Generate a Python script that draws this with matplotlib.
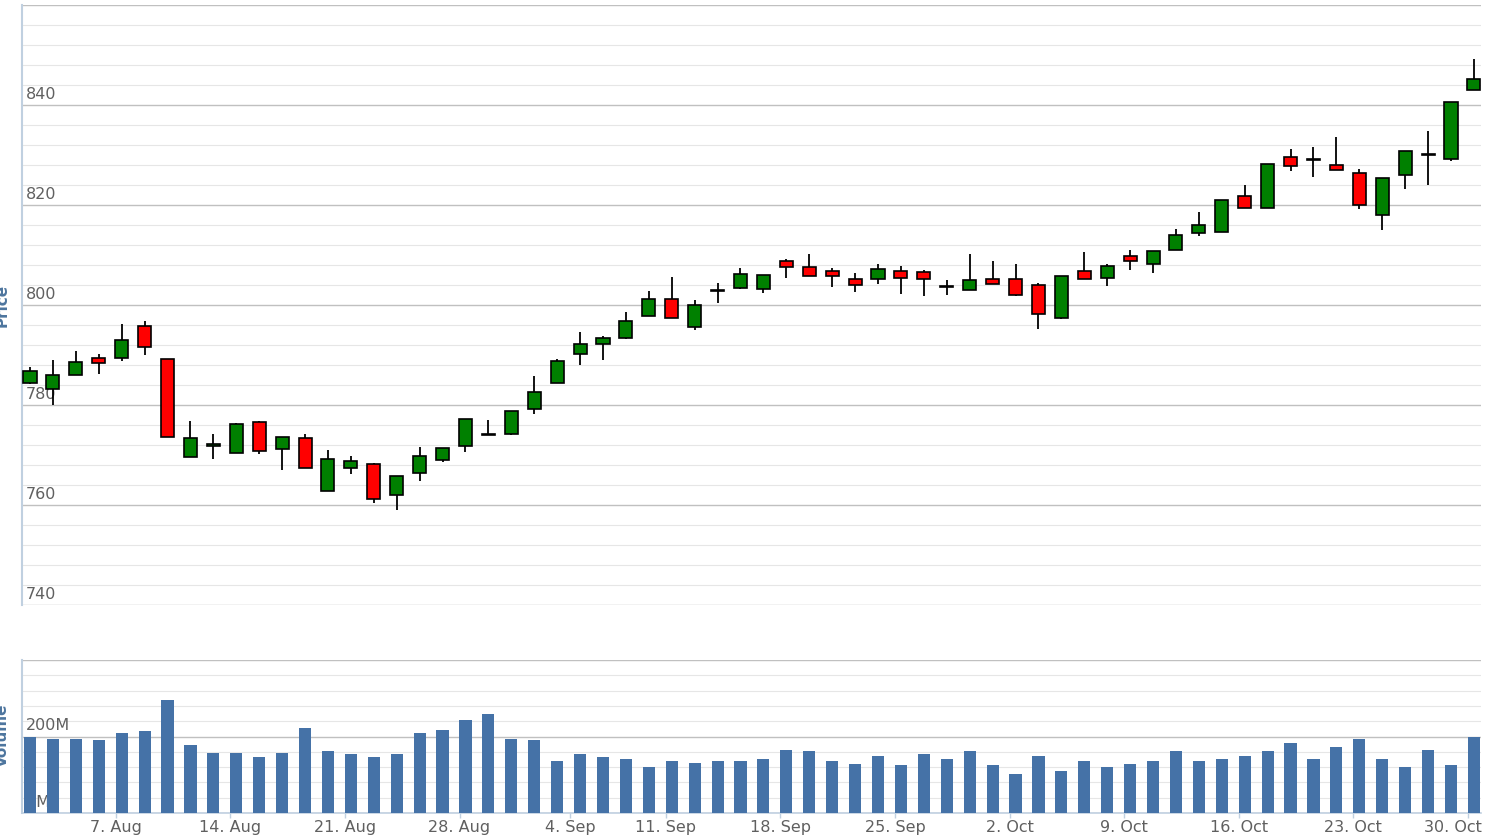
import matplotlib.pyplot as plt
import numpy as np
import pandas as pd
from matplotlib.transforms import ScaledTranslation

# trading days, Labor Day closed
dates = pd.bdate_range('2017-08-01', '2017-10-30')
dates = dates[dates != pd.Timestamp('2017-09-04')]

opens = [784.5, 783.2, 786.0, 789.5,
         789.5, 795.8, 789.2, 769.6, 771.9,
         770.5, 776.5, 771.2, 773.4, 762.8,
         767.5, 768.1, 762.1, 766.5, 769.0,
         771.8, 774.0, 774.3, 779.2, 784.5,
         790.3, 792.2, 793.4, 797.8,
         801.3, 795.7, 802.8, 803.4, 803.3,
         808.8, 807.5, 806.9, 805.3, 805.2,
         806.9, 806.6, 803.6, 803.1, 805.1,
         805.3, 804.1, 797.5, 806.7, 805.5,
         809.7, 808.3, 811.1, 814.5, 814.6,
         821.8, 819.5, 829.5, 829.0, 828.0,
         826.4, 818.0, 826.0, 830.0, 829.2,
         843.1]
highs = [787.7, 789.0, 790.8, 790.2,
         796.2, 796.8, 789.2, 776.9, 774.3,
         776.5, 776.9, 773.7, 774.3, 771.0,
         769.8, 768.5, 765.9, 771.7, 771.5,
         777.1, 777.1, 778.7, 785.8, 789.3,
         794.6, 793.9, 798.6, 802.9,
         805.7, 801.0, 804.5, 807.5, 806.0,
         809.3, 810.3, 807.5, 806.5, 808.2,
         807.9, 807.0, 805.1, 810.3, 808.8,
         808.2, 804.5, 805.7, 810.7, 808.2,
         811.0, 810.7, 815.3, 818.7, 821.1,
         824.0, 828.3, 831.3, 831.7, 833.6,
         827.3, 825.5, 830.8, 834.9, 840.7,
         849.3]
lows = [784.3, 780.0, 786.0, 786.3,
        788.9, 790.0, 773.7, 769.6, 769.3,
        770.5, 770.2, 767.1, 767.5, 762.8,
        766.2, 760.5, 759.0, 764.9, 768.6,
        770.7, 774.0, 774.0, 778.3, 784.5,
        788.1, 789.1, 793.2, 797.8,
        797.5, 795.0, 800.5, 803.2, 802.5,
        805.5, 805.9, 803.7, 802.7, 804.3,
        802.3, 801.8, 802.1, 803.1, 804.3,
        801.8, 795.3, 797.2, 805.3, 803.9,
        807.0, 806.5, 811.0, 813.9, 814.6,
        819.5, 819.5, 826.9, 825.7, 827.0,
        819.2, 815.1, 823.2, 824.1, 828.8,
        843.1]
closes = [786.7, 786.1, 788.6, 788.5,
          793.0, 791.7, 773.7, 773.4, 772.1,
          776.1, 770.9, 773.7, 767.5, 769.1,
          768.7, 761.3, 765.9, 769.7, 771.5,
          777.1, 774.1, 778.7, 782.7, 788.9,
          792.3, 793.5, 796.7, 801.3,
          797.5, 800.1, 803.0, 806.3, 806.0,
          807.7, 805.9, 805.9, 804.0, 807.2,
          805.5, 805.2, 803.8, 805.0, 804.3,
          802.1, 798.2, 805.7, 805.3, 807.8,
          808.9, 810.7, 814.1, 816.0, 821.1,
          819.5, 828.3, 827.9, 829.2, 827.0,
          820.1, 825.5, 830.8, 830.2, 840.7,
          845.3]
volume_m = [200, 193, 193, 190, 209, 214, 296, 177, 156, 156, 146, 156,
            222, 161, 154, 146, 154, 209, 217, 243, 259,
            193, 190, 135, 154, 146, 140, 119, 135, 132, 135, 135, 140,
            164, 161, 135, 127, 148, 125, 154, 140, 161,
            125, 101, 148, 109, 135, 119, 127, 135, 161, 135, 140, 148,
            161, 182, 140, 172, 193, 140, 119, 164, 125, 198]

x = np.arange(len(dates))
o = np.array(opens)
c = np.array(closes)

grey_txt = '#606060'
axis_col = '#C0D0E0'
title_col = '#4d759e'

fig = plt.figure(figsize=(14.94, 8.4), dpi=100)
ax = fig.add_axes([22/1494, 1-605/840, 1459/1494, 600/840])
axv = fig.add_axes([22/1494, 1-813/840, 1459/1494, 153/840])

xlim = (-0.35, 63.31)

# price panel
ax.set_ylim(740, 860)
ax.set_yticks(np.arange(740, 861, 20))
ax.set_yticks(np.arange(740, 861, 4), minor=True)
ax.grid(which='minor', axis='y', color='#E6E6E6', lw=0.8, zorder=0)
ax.grid(which='major', axis='y', color='#C0C0C0', lw=1.0, zorder=0)
ax.vlines(x, lows, highs, color='black', lw=1.3, zorder=2)
up = c >= o
cols = np.where(up, '#008000', '#ff0000')
ax.bar(x, np.maximum(np.abs(c - o), 0.15), bottom=np.minimum(o, c), width=0.57,
       color=cols, edgecolor='black', lw=1.2, zorder=3)
for v in range(740, 860, 20):
    ax.annotate(str(v), xy=(0, v), xycoords=('axes fraction', 'data'),
                xytext=(4, 3), textcoords='offset pixels', ha='left', va='bottom',
                fontsize=11.5, color=grey_txt, zorder=1)

# volume panel
axv.bar(x, volume_m, width=0.53, color='#4572A7', zorder=3)
axv.set_ylim(0, 400)
axv.set_yticks([0, 200, 400])
axv.set_yticks(np.arange(0, 401, 40), minor=True)
axv.grid(which='minor', axis='y', color='#E6E6E6', lw=0.8, zorder=0)
axv.grid(which='major', axis='y', color='#C0C0C0', lw=1.0, zorder=0)
for v in [0, 200]:
    axv.annotate(f'{v}M', xy=(0, v), xycoords=('axes fraction', 'data'),
                 xytext=(4, 3), textcoords='offset pixels', ha='left', va='bottom',
                 fontsize=11.5, color=grey_txt, zorder=1)

# monday ticks on an ordinal axis
stamp = dates.map(pd.Timestamp.toordinal).to_numpy() + 0.78
mondays = pd.date_range('2017-08-07', '2017-10-30', freq='W-MON')
tick_pos = np.interp(mondays.map(pd.Timestamp.toordinal).to_numpy(), stamp, x)
tick_lab = [f'{d.day}. {d.strftime("%b")}' for d in mondays]

for a in (ax, axv):
    a.set_xlim(*xlim)
    for s in ('top', 'right', 'bottom'):
        a.spines[s].set_visible(False)
    a.spines['left'].set_color(axis_col)
    a.spines['left'].set_linewidth(1.5)
    a.tick_params(axis='y', which='both', length=0, labelleft=False)
    a.set_axisbelow(True)

ax.set_xticks([])
axv.spines['bottom'].set_visible(True)
axv.spines['bottom'].set_color(axis_col)
axv.spines['bottom'].set_linewidth(1.2)
axv.set_xticks(tick_pos)
axv.set_xticklabels(tick_lab, fontsize=11.5, color=grey_txt)
axv.tick_params(axis='x', length=3.5, width=1, color=axis_col, pad=1.5)
last = axv.get_xticklabels()[-1]
last.set_transform(last.get_transform() + ScaledTranslation(-0.15, 0, fig.dpi_scale_trans))

# axis titles sit half outside the canvas, as in the source
fig.text(2/1494, 1-305/840, 'Price', rotation=90, ha='center', va='center',
         fontsize=11, fontweight='bold', color=title_col)
fig.text(2/1494, 1-735/840, 'Volume', rotation=90, ha='center', va='center',
         fontsize=11, fontweight='bold', color=title_col)

plt.savefig('out.png', dpi=100)
